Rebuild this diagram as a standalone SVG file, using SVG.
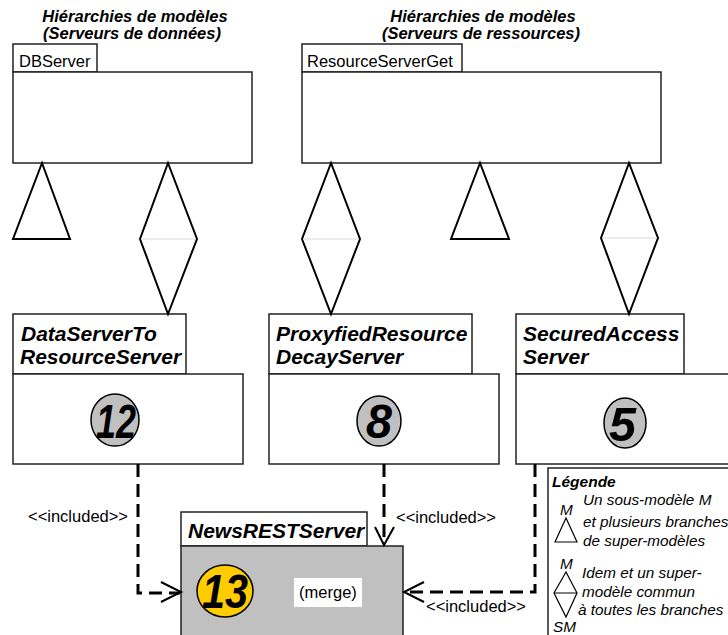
<svg xmlns="http://www.w3.org/2000/svg" width="728" height="635" viewBox="0 0 728 635">
<style>
text{font-family:"Liberation Sans",Arial,sans-serif;fill:#000}
.title{font-size:16.5px;font-weight:bold;font-style:italic}
.reg{font-size:16.5px}
.name{font-size:21px;font-weight:bold;font-style:italic}
.num{font-size:48px;font-weight:bold;font-style:italic}
.leg{font-size:15.3px;font-style:italic}
.box{fill:#fff;stroke:#222;stroke-width:1.5}
.sym{fill:#fff;stroke:#000;stroke-width:2;stroke-linejoin:miter}
.mid{stroke:#d8d8d8;stroke-width:1}
.dash{fill:none;stroke:#000;stroke-width:3;stroke-dasharray:13,7}
.head{fill:none;stroke:#000;stroke-width:2}
.badge{fill:#c0c0c0;stroke:#000;stroke-width:1.5}
</style>
<rect width="728" height="635" fill="#fff"/>
<g id="titles">
<text class="title" x="135" y="22" text-anchor="middle">Hiérarchies de modèles</text>
<text class="title" x="132" y="39" text-anchor="middle">(Serveurs de données)</text>
<text class="title" x="483" y="22" text-anchor="middle">Hiérarchies de modèles</text>
<text class="title" x="481" y="39" text-anchor="middle">(Serveurs de ressources)</text>
</g>
<g id="DBServer">
<rect class="box" x="13" y="44" width="84" height="28"/>
<rect class="box" x="13" y="72" width="239" height="91"/>
<text class="reg" x="19" y="67">DBServer</text>
</g>
<g id="ResourceServerGet">
<rect class="box" x="302" y="44" width="160" height="28"/>
<rect class="box" x="302" y="72" width="359" height="91"/>
<text class="reg" x="307" y="67">ResourceServerGet</text>
</g>
<g id="DataServerToResourceServer">
<rect class="box" x="13" y="314" width="173" height="60"/>
<rect class="box" x="13" y="374" width="230" height="90"/>
<text class="name" x="21" y="341">DataServerTo</text>
<text class="name" x="20" y="364">ResourceServer</text>
<ellipse class="badge" cx="115" cy="420" rx="24" ry="26"/>
<text class="num" x="96" y="438" textLength="40" lengthAdjust="spacingAndGlyphs">12</text>
</g>
<g id="ProxyfiedResourceDecayServer">
<rect class="box" x="269" y="314" width="203" height="60"/>
<rect class="box" x="269" y="374" width="230" height="90"/>
<text class="name" x="276" y="341">ProxyfiedResource</text>
<text class="name" x="276" y="364">DecayServer</text>
<ellipse class="badge" cx="379" cy="421" rx="22" ry="25"/>
<text class="num" x="366" y="438" textLength="26" lengthAdjust="spacingAndGlyphs">8</text>
</g>
<g id="SecuredAccessServer">
<rect class="box" x="516" y="314" width="168" height="60"/>
<rect class="box" x="516" y="374" width="220" height="90"/>
<text class="name" x="523" y="341">SecuredAccess</text>
<text class="name" x="523" y="364">Server</text>
<ellipse class="badge" cx="625" cy="423" rx="21" ry="25"/>
<text class="num" x="609" y="441" textLength="27" lengthAdjust="spacingAndGlyphs">5</text>
</g>
<g id="NewsRESTServer">
<rect class="box" x="181" y="512" width="186" height="34"/>
<rect x="181" y="546" width="222" height="100" fill="#c0c0c0" stroke="#222" stroke-width="1.5"/>
<text class="name" x="188" y="538">NewsRESTServer</text>
<ellipse cx="225" cy="591" rx="28" ry="26" fill="#ffcc00" stroke="#000" stroke-width="1.5"/>
<text class="num" x="202" y="608" textLength="46" lengthAdjust="spacingAndGlyphs">13</text>
<rect x="294" y="578" width="68" height="29" fill="#fff"/>
<text class="reg" x="328" y="598" text-anchor="middle">(merge)</text>
</g>
<g id="connectors">
<polygon class="sym" points="42,163 13,239 70,239"/>
<polygon class="sym" points="168,163 140,239 168,314 197,239"/>
<line class="mid" x1="141" y1="239" x2="196" y2="239"/>
<polygon class="sym" points="331,163 302,239 331,314 360,239"/>
<line class="mid" x1="303" y1="239" x2="359" y2="239"/>
<polygon class="sym" points="480,163 451,239 509,239"/>
<polygon class="sym" points="629,163 601,238 629,314 658,238"/>
<line class="mid" x1="602" y1="238" x2="657" y2="238"/>
<path class="dash" d="M138,464 V593 H180"/>
<path class="head" d="M161,582 L181,592 L161,602"/>
<text class="reg" x="28" y="522">&lt;&lt;included&gt;&gt;</text>
<path class="dash" d="M384,464 V544"/>
<path class="head" d="M375,527 L384,545 L394,527"/>
<text class="reg" x="396" y="523">&lt;&lt;included&gt;&gt;</text>
<path class="dash" d="M535,464 V592 H404"/>
<path class="head" d="M424,582 L404,592 L424,602"/>
<text class="reg" x="426" y="612">&lt;&lt;included&gt;&gt;</text>
</g>
<g id="legend">
<rect x="548" y="468" width="200" height="200" fill="#fff" stroke="#222" stroke-width="1.5"/>
<text x="552" y="487" style="font-size:15.5px;font-weight:bold;font-style:italic">Légende</text>
<text class="leg" x="583" y="505">Un sous-modèle M</text>
<text class="leg" x="583" y="527">et plusieurs branches</text>
<text class="leg" x="583" y="546">de super-modèles</text>
<text class="leg" x="560" y="515">M</text>
<polygon points="566,518 555,542 577,542" fill="#fff" stroke="#000" stroke-width="1.2"/>
<text class="leg" x="560" y="569">M</text>
<polygon points="566,572 554,593 566,617 577,593" fill="#fff" stroke="#000" stroke-width="1.2"/>
<line x1="554" y1="593" x2="577" y2="593" stroke="#000" stroke-width="1"/>
<text class="leg" x="553" y="632">SM</text>
<text class="leg" x="582" y="578">Idem et un super-</text>
<text class="leg" x="582" y="597">modèle commun</text>
<text class="leg" x="578" y="615">à toutes les branches</text>
</g>
</svg>
